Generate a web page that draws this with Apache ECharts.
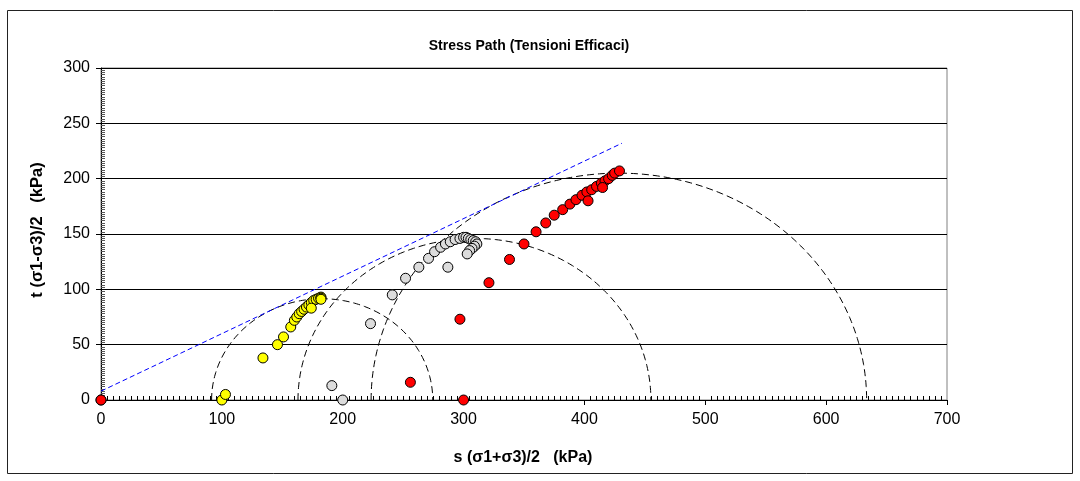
<!DOCTYPE html>
<html>
<head>
<meta charset="utf-8">
<script src="https://cdn.jsdelivr.net/npm/echarts@6/dist/echarts.min.js"></script>
<style>
html,body{margin:0;padding:0;background:#fff;}
#c{width:1080px;height:481px;}
</style>
</head>
<body>
<div id="c"></div>
<script>
// ---- data ----
const titleText = 'Stress Path (Tensioni Efficaci)';
const xTitle = 's (\u03c31+\u03c33)/2   (kPa)';
const yTitle = 't (\u03c31-\u03c33)/2   (kPa)';

const xMin = 0, xMax = 700, xStep = 100;
const yMin = 0, yMax = 300, yStep = 50;

// test 1 (yellow)
const yellowS = [100, 103, 134, 146, 151, 157, 160, 162, 164, 166, 168, 170, 172, 174, 176, 178, 180, 182, 182, 174, 182];
const yellowT = [0, 5, 38, 50, 57, 66, 72, 75, 78, 80, 82, 84, 86, 88, 90, 91, 92, 93, 92, 83, 91];

// test 2 (grey)
const greyS = [0, 200, 191, 223, 241, 252, 263, 271, 276, 281, 285, 289, 293, 297, 300, 302, 304, 306, 308, 310, 311, 309, 307, 305, 303, 287];
const greyT = [0, 0, 13, 69, 95, 110, 120, 128, 134, 138, 141, 143, 145, 146, 147, 147, 146, 145, 144, 143, 141, 139, 137, 135, 132, 120];

// test 3 (red)
const redS = [0, 300, 256, 297, 321, 338, 350, 360, 368, 375, 382, 388, 393, 398, 402, 406, 410, 414, 417, 420, 423, 425, 429, 403, 415];
const redT = [0, 0, 16, 73, 106, 127, 141, 152, 160, 167, 172, 177, 181, 185, 188, 190, 193, 196, 198, 200, 203, 205, 207, 180, 192];

// Mohr circles at failure (centre s, radius t)
const circleCentres = [183, 309, 428.5];
const circleRadii = [91.5, 146, 205];

// failure envelope (two end points)
const envelopeS = [0, 431];
const envelopeT = [8, 232];

// ---- build ----
function pairs(a, b) { return a.map((v, i) => [v, b[i]]); }
function semicircle(c, r) {
  const pts = [];
  const n = 160;
  for (let i = 0; i <= n; i++) {
    const a = Math.PI * i / n;
    pts.push([c - r * Math.cos(a), r * Math.sin(a)]);
  }
  return pts;
}

const FONT = '"Liberation Sans", Arial, sans-serif';
const chart = echarts.init(document.getElementById('c'), null, {renderer: 'canvas'});

const series = [];
circleCentres.forEach((c, i) => {
  series.push({
    type: 'line', data: semicircle(c, circleRadii[i]), showSymbol: false, symbol: 'none',
    xAxisIndex: 0, yAxisIndex: 0, silent: true, z: 2,
    lineStyle: {color: '#000', width: 1, type: [7, 4]}
  });
});
series.push({
  type: 'line', data: pairs(envelopeS, envelopeT), symbol: 'none', silent: true, z: 2,
  xAxisIndex: 0, yAxisIndex: 0,
  lineStyle: {color: '#0000ff', width: 1, type: [5, 3]}
});
function scat(s, t, color) {
  return {
    type: 'scatter', data: pairs(s, t), symbol: 'circle', symbolSize: 10, clip: false, z: 3,
    xAxisIndex: 0, yAxisIndex: 0,
    itemStyle: {color: color, borderColor: '#000', borderWidth: 1, opacity: 1}
  };
}
series.push(scat(yellowS, yellowT, '#ffff00'));
series.push(scat(greyS, greyT, '#dcdcdc'));
series.push(scat(redS, redT, '#ff0000'));

const gridL = 101, gridR = 133, gridT = 68, gridB = 81;

chart.setOption({
  animation: false,
  backgroundColor: '#fff',
  title: {
    text: titleText, left: 524, top: 34, textAlign: 'center',
    textStyle: {fontFamily: FONT, fontSize: 14, fontWeight: 'bold', color: '#000'}
  },
  grid: {left: gridL, right: gridR, top: gridT, bottom: gridB, show: true, borderColor: '#808080', borderWidth: 1, backgroundColor: '#fff'},
  xAxis: [{
    type: 'value', min: xMin, max: xMax, interval: xStep,
    axisLine: {show: true, onZero: false, lineStyle: {color: '#000', width: 1}},
    axisTick: {show: true, length: 5, lineStyle: {color: '#000'}},
    axisLabel: {fontFamily: FONT, fontSize: 16, color: '#000', margin: 12},
    splitLine: {show: false}
  }, {
    type: 'value', min: xMin, max: xMax, interval: xStep, position: 'bottom',
    axisLine: {show: false, onZero: false},
    axisTick: {show: false, inside: true},
    minorTick: {show: true, splitNumber: 20, length: 4, lineStyle: {color: '#000', width: 1}},
    axisLabel: {show: false}, splitLine: {show: false}
  }],
  yAxis: [{
    type: 'value', min: yMin, max: yMax, interval: yStep,
    axisLine: {show: true, onZero: false, lineStyle: {color: '#000', width: 1}},
    axisTick: {show: true, length: 5, lineStyle: {color: '#000'}},
    axisLabel: {fontFamily: FONT, fontSize: 16, color: '#000', margin: 11},
    splitLine: {show: true, lineStyle: {color: '#000', width: 1}}
  }, {
    type: 'value', min: yMin, max: yMax, interval: yStep, position: 'left',
    axisLine: {show: false, onZero: false},
    axisTick: {show: false, inside: true},
    minorTick: {show: true, splitNumber: 25, length: 4, lineStyle: {color: '#555', width: 1}},
    axisLabel: {show: false}, splitLine: {show: false}
  }],
  series: series,
  graphic: [
    {type: 'rect', shape: {x: 7.5, y: 10.5, width: 1065, height: 463}, style: {fill: 'none', stroke: '#222', lineWidth: 1}, z: -1, silent: true},
    {type: 'text', x: 523, y: 458, style: {text: xTitle, font: 'bold 16px ' + FONT, fill: '#000', textAlign: 'center', textVerticalAlign: 'middle'}, silent: true},
    {type: 'text', x: 37, y: 230, rotation: Math.PI / 2, style: {text: yTitle, font: 'bold 16.5px ' + FONT, fill: '#000', textAlign: 'center', textVerticalAlign: 'middle'}, silent: true}
  ]
});
</script>
</body>
</html>
